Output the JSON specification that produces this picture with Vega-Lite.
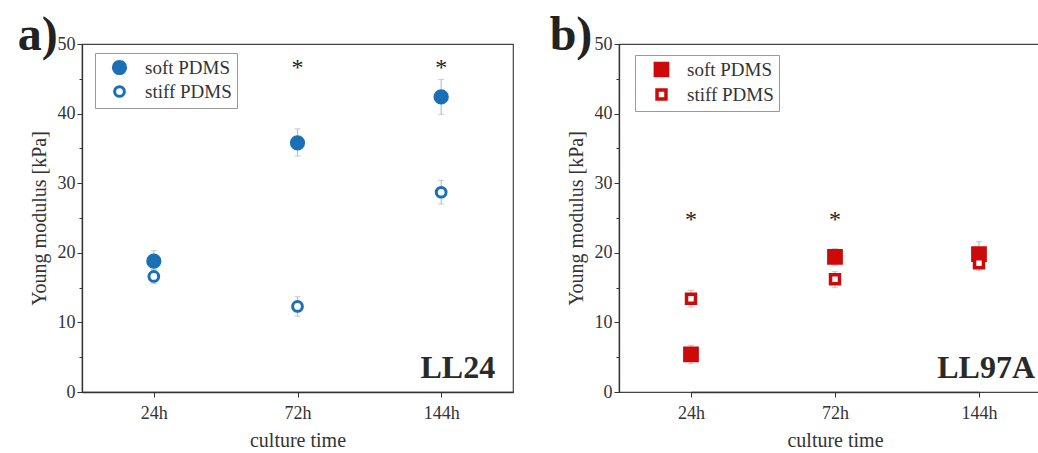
{
  "$schema": "https://vega.github.io/schema/vega-lite/v6.json",
  "background": "white",
  "padding": {"left": 17, "top": 11, "right": 0, "bottom": 0},
  "spacing": 35,
  "resolve": {"scale": {"fill": "independent", "size": "independent"}, "legend": {"fill": "independent", "size": "independent"}},
  "datasets": {
    "ll24": [
      {"time": "24h", "group": "soft PDMS", "value": 18.8, "lo": 17.4, "hi": 20.3},
      {"time": "24h", "group": "stiff PDMS", "value": 16.6, "lo": 15.6, "hi": 17.6},
      {"time": "72h", "group": "soft PDMS", "value": 35.8, "lo": 33.9, "hi": 37.8},
      {"time": "72h", "group": "stiff PDMS", "value": 12.3, "lo": 10.9, "hi": 13.7},
      {"time": "144h", "group": "soft PDMS", "value": 42.4, "lo": 39.9, "hi": 44.9},
      {"time": "144h", "group": "stiff PDMS", "value": 28.7, "lo": 27.0, "hi": 30.4}
    ],
    "ll97a": [
      {"time": "24h", "group": "soft PDMS", "value": 5.4, "lo": 4.1, "hi": 6.7},
      {"time": "24h", "group": "stiff PDMS", "value": 13.4, "lo": 12.2, "hi": 14.6},
      {"time": "72h", "group": "soft PDMS", "value": 19.4, "lo": 18.2, "hi": 20.6},
      {"time": "72h", "group": "stiff PDMS", "value": 16.2, "lo": 15.0, "hi": 17.3},
      {"time": "144h", "group": "soft PDMS", "value": 19.8, "lo": 18.0, "hi": 21.6},
      {"time": "144h", "group": "stiff PDMS", "value": 18.5, "lo": 17.5, "hi": 19.5}
    ],
    "stars24": [
      {"time": "72h", "y": 47.0, "label": "*"},
      {"time": "144h", "y": 47.0, "label": "*"}
    ],
    "stars97": [
      {"time": "24h", "y": 25.2, "label": "*"},
      {"time": "72h", "y": 25.2, "label": "*"}
    ]
  },
  "config": {
    "font": "Liberation Serif",
    "view": {"stroke": "#444", "strokeWidth": 1.2},
    "axis": {
      "labelFont": "Liberation Serif", "labelFontSize": 18, "labelColor": "#333",
      "titleFont": "Liberation Serif", "titleFontSize": 20, "titleFontWeight": "normal", "titleColor": "#333",
      "domainColor": "#333", "domainWidth": 1.3, "tickColor": "#333", "tickSize": 5, "grid": false
    },
    "axisX": {"labelAlign": "center", "labelFlush": false, "labelAngle": 0},
    "legend": {
      "labelFont": "Liberation Serif", "labelFontSize": 19, "labelColor": "#333"
    }
  },
  "hconcat": [
    {
      "width": 431, "height": 348,
      "resolve": {"axis": {"y": "independent"}},
      "layer": [
        {
          "data": {"name": "ll24"},
          "mark": {"type": "errorbar", "color": "#b3c3d3", "thickness": 1.2, "ticks": {"size": 6, "color": "#b3c3d3"}},
          "encoding": {
            "x": {"field": "time", "type": "nominal"},
            "y": {"field": "lo", "type": "quantitative", "axis": null},
            "y2": {"field": "hi"}
          }
        },
        {
          "data": {"name": "ll24"},
          "mark": {"type": "point", "shape": "circle", "strokeWidth": 3, "opacity": 1, "stroke": "#1a6fb5"},
          "encoding": {
            "x": {"field": "time", "type": "nominal", "sort": ["24h", "72h", "144h"],
              "scale": {"type": "point", "domain": ["24h", "72h", "144h"], "padding": 0.5},
              "axis": {"title": "culture time", "labelAngle": 0, "labelAlign": "center", "labelPadding": 7, "titlePadding": 8}},
            "y": {"field": "value", "type": "quantitative",
              "scale": {"domain": [0, 50], "nice": false},
              "axis": {"orient": "left", "title": "Young modulus [kPa]", "values": [0, 10, 20, 30, 40, 50], "labelPadding": 2, "titlePadding": 8}},
            "fill": {"field": "group", "type": "nominal",
              "scale": {"domain": ["soft PDMS", "stiff PDMS"], "range": ["#1a6fb5", "white"]},
              "legend": {"title": null, "orient": "none", "legendX": 13, "legendY": 9,
                "strokeColor": "#999", "padding": 5, "rowPadding": 0,
                "symbolType": "circle", "symbolStrokeColor": "#1a6fb5", "symbolStrokeWidth": 3,
                "symbolOffset": 10, "labelOffset": 16}},
            "size": {"field": "group", "type": "nominal",
              "scale": {"domain": ["soft PDMS", "stiff PDMS"], "range": [150, 95]}}
          }
        },
        {
          "data": {"name": "stars24"},
          "mark": {"type": "text", "fontSize": 24, "baseline": "middle", "dy": 3, "color": "#222"},
          "encoding": {
            "x": {"field": "time", "type": "nominal"},
            "y": {"field": "y", "type": "quantitative",
              "axis": {"orient": "left", "values": [5, 15, 25, 35, 45], "labels": false, "title": null, "domain": false, "tickSize": 3}},
            "text": {"field": "label"}
          }
        },
        {
          "data": {"values": [{}]},
          "mark": {"type": "text", "fontSize": 32, "fontWeight": "bold", "align": "right", "baseline": "alphabetic", "dx": 54, "color": "#2a2a2a"},
          "encoding": {
            "x": {"datum": "144h", "type": "nominal"},
            "y": {"datum": 2, "type": "quantitative", "axis": null},
            "text": {"value": "LL24"}
          }
        },
        {
          "data": {"values": [{}]},
          "mark": {"type": "text", "fontSize": 48, "fontWeight": "bold", "align": "center", "baseline": "alphabetic", "dx": -116, "dy": 6, "color": "#222"},
          "encoding": {
            "x": {"datum": "24h", "type": "nominal"},
            "y": {"datum": 50, "type": "quantitative", "axis": null},
            "text": {"value": "a)"}
          }
        }
      ]
    },
    {
      "width": 420, "height": 348,
      "resolve": {"axis": {"y": "independent"}},
      "layer": [
        {
          "data": {"name": "ll97a"},
          "mark": {"type": "errorbar", "color": "#d3b3b3", "thickness": 1.2, "ticks": {"size": 6, "color": "#d3b3b3"}},
          "encoding": {
            "x": {"field": "time", "type": "nominal"},
            "y": {"field": "lo", "type": "quantitative", "axis": null},
            "y2": {"field": "hi"}
          }
        },
        {
          "data": {"name": "ll97a"},
          "mark": {"type": "point", "shape": "square", "strokeWidth": 3.5, "opacity": 1, "stroke": "#cc0a0a"},
          "encoding": {
            "x": {"field": "time", "type": "nominal", "sort": ["24h", "72h", "144h"],
              "scale": {"type": "point", "domain": ["24h", "72h", "144h"], "range": [72, 360], "padding": 0},
              "axis": {"title": "culture time", "labelAngle": 0, "labelAlign": "center", "labelPadding": 7, "titlePadding": 8}},
            "y": {"field": "value", "type": "quantitative",
              "scale": {"domain": [0, 50], "nice": false},
              "axis": {"orient": "left", "title": "Young modulus [kPa]", "values": [0, 10, 20, 30, 40, 50], "labelPadding": 2, "titlePadding": 8}},
            "fill": {"field": "group", "type": "nominal",
              "scale": {"domain": ["soft PDMS", "stiff PDMS"], "range": ["#cc0a0a", "white"]},
              "legend": {"title": null, "orient": "none", "legendX": 16, "legendY": 11,
                "strokeColor": "#999", "padding": 5, "rowPadding": 0,
                "symbolType": "square", "symbolStrokeColor": "#cc0a0a", "symbolStrokeWidth": 3.5,
                "symbolOffset": 12, "labelOffset": 16}},
            "size": {"field": "group", "type": "nominal",
              "scale": {"domain": ["soft PDMS", "stiff PDMS"], "range": [150, 80]}}
          }
        },
        {
          "data": {"name": "stars97"},
          "mark": {"type": "text", "fontSize": 24, "baseline": "middle", "dy": 3, "color": "#222"},
          "encoding": {
            "x": {"field": "time", "type": "nominal"},
            "y": {"field": "y", "type": "quantitative",
              "axis": {"orient": "left", "values": [5, 15, 25, 35, 45], "labels": false, "title": null, "domain": false, "tickSize": 3}},
            "text": {"field": "label"}
          }
        },
        {
          "data": {"values": [{}]},
          "mark": {"type": "text", "fontSize": 32, "fontWeight": "bold", "align": "right", "baseline": "alphabetic", "dx": 56, "color": "#2a2a2a"},
          "encoding": {
            "x": {"datum": "144h", "type": "nominal"},
            "y": {"datum": 2, "type": "quantitative", "axis": null},
            "text": {"value": "LL97A"}
          }
        },
        {
          "data": {"values": [{}]},
          "mark": {"type": "text", "fontSize": 48, "fontWeight": "bold", "align": "center", "baseline": "alphabetic", "dx": -120, "dy": 6, "color": "#222"},
          "encoding": {
            "x": {"datum": "24h", "type": "nominal"},
            "y": {"datum": 50, "type": "quantitative", "axis": null},
            "text": {"value": "b)"}
          }
        }
      ]
    }
  ]
}
